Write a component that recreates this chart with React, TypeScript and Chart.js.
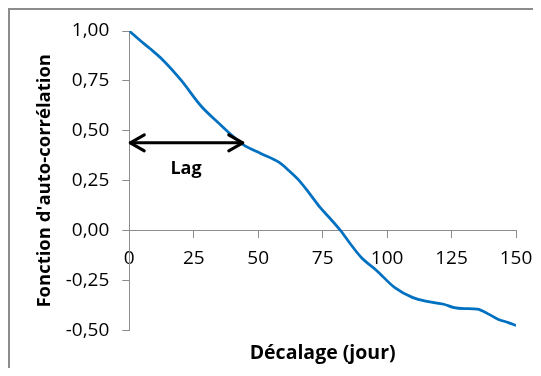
import React, { useEffect, useRef } from "react";
import { Chart, registerables } from "chart.js";

Chart.register(...registerables);

const lagDays = [0, 4, 8, 13, 20, 28, 35, 39, 44, 51, 58, 62, 66, 70, 74, 78, 82, 86, 90, 96, 103, 110, 116, 122, 126, 130, 135, 139, 143, 147, 150];
const acfValues = [1.0, 0.955, 0.912, 0.855, 0.755, 0.622, 0.535, 0.487, 0.432, 0.387, 0.343, 0.3, 0.25, 0.185, 0.117, 0.06, 0.0, -0.07, -0.134, -0.2, -0.285, -0.335, -0.355, -0.368, -0.385, -0.39, -0.393, -0.415, -0.443, -0.46, -0.475];

const xTickValues = [0, 25, 50, 75, 100, 125, 150];
const yTickValues = [-0.5, -0.25, 0, 0.25, 0.5, 0.75, 1.0];

const lagArrowStart = 0;
const lagArrowEnd = 44;
const lagArrowY = 0.44;
const lagLabel = "Lag";
const lagLabelX = 22;
const lagLabelY = 0.31;

const xTitle = "Décalage (jour)";
const yTitle = "Fonction d'auto-corrélation";

const FONT = "'Open Sans', sans-serif";
const AXIS_GRAY = "#8c8c8c";

const arrowPlugin = {
  id: "lagArrow",
  afterDatasetsDraw(chart: any) {
    const { ctx, scales } = chart;
    const xs = scales.x;
    const ys = scales.y;
    const x1 = xs.getPixelForValue(lagArrowStart) + 1;
    const x2 = xs.getPixelForValue(lagArrowEnd);
    const y = ys.getPixelForValue(lagArrowY);
    ctx.save();
    ctx.strokeStyle = "#000";
    ctx.lineWidth = 3;
    ctx.lineCap = "round";
    ctx.lineJoin = "round";
    ctx.beginPath();
    ctx.moveTo(x1, y);
    ctx.lineTo(x2, y);
    ctx.stroke();
    const hl = 14;
    const hh = 8;
    ctx.beginPath();
    ctx.moveTo(x1 + hl, y - hh);
    ctx.lineTo(x1, y);
    ctx.lineTo(x1 + hl, y + hh);
    ctx.moveTo(x2 - hl, y - hh);
    ctx.lineTo(x2, y);
    ctx.lineTo(x2 - hl, y + hh);
    ctx.stroke();
    ctx.fillStyle = "#000";
    ctx.font = `bold 18px ${FONT}`;
    ctx.textAlign = "center";
    ctx.textBaseline = "middle";
    ctx.fillText(lagLabel, xs.getPixelForValue(lagLabelX), ys.getPixelForValue(lagLabelY));
    ctx.restore();
  },
};

export default function App() {
  const canvasRef = useRef<HTMLCanvasElement | null>(null);

  useEffect(() => {
    if (!canvasRef.current) return;
    const chart = new Chart(canvasRef.current, {
      type: "line",
      data: {
        datasets: [
          {
            data: lagDays.map((d, i) => ({ x: d, y: acfValues[i] })),
            borderColor: "#0070C0",
            borderWidth: 2.75,
            pointRadius: 0,
            cubicInterpolationMode: "monotone",
            fill: false,
          },
        ],
      },
      options: {
        responsive: false,
        animation: false,
        layout: { padding: { top: 21, right: 17, bottom: 0, left: 0 } },
        plugins: {
          legend: { display: false },
          tooltip: { enabled: false },
          title: {
            display: true,
            text: xTitle,
            position: "bottom",
            fullSize: false,
            color: "#000",
            font: { family: FONT, size: 19.5, weight: "bold" },
            padding: { top: 11, bottom: 3 },
          },
        },
        scales: {
          x: {
            type: "linear",
            position: { y: 0 },
            min: 0,
            max: 150,
            afterBuildTicks: (scale: any) => {
              scale.ticks = xTickValues.map((v) => ({ value: v }));
            },
            afterFit: (scale: any) => {
              scale.paddingLeft = 0;
              scale.paddingRight = 0;
            },
            ticks: {
              color: "#000",
              font: { family: FONT, size: 19 },
              padding: 9,
              maxRotation: 0,
              autoSkip: false,
              callback: (v: any) => String(v),
            },
            grid: { drawOnChartArea: false, drawTicks: true, tickLength: 7, color: AXIS_GRAY },
            border: { display: true, color: AXIS_GRAY, width: 1 },
          },
          y: {
            type: "linear",
            position: "left",
            min: -0.5,
            max: 1,
            afterBuildTicks: (scale: any) => {
              scale.ticks = yTickValues.map((v) => ({ value: v }));
            },
            afterFit: (scale: any) => {
              scale.width = 119.3;
              scale.paddingTop = 0;
              scale.paddingBottom = 0;
            },
            ticks: {
              color: "#000",
              font: { family: FONT, size: 19 },
              padding: 13,
              autoSkip: false,
              callback: (v: any) => Number(v).toFixed(2).replace(".", ","),
            },
            grid: { drawOnChartArea: false, drawTicks: true, tickLength: 7, color: AXIS_GRAY },
            border: { display: true, color: AXIS_GRAY, width: 1 },
            title: {
              display: true,
              text: yTitle,
              color: "#000",
              font: { family: FONT, size: 18.5, weight: "bold" },
              padding: { top: 24, bottom: 0 },
            },
          },
        },
      } as any,
      plugins: [arrowPlugin],
    });
    return () => chart.destroy();
  }, []);

  return (
    <div
      style={{
        width: 525,
        height: 360,
        boxSizing: "border-box",
        borderTop: "2px solid #8c8c8c",
        borderLeft: "2px solid #8c8c8c",
        overflow: "hidden",
        background: "#fff",
      }}
    >
      <canvas ref={canvasRef} width={523} height={358} style={{ display: "block" }} />
    </div>
  );
}
